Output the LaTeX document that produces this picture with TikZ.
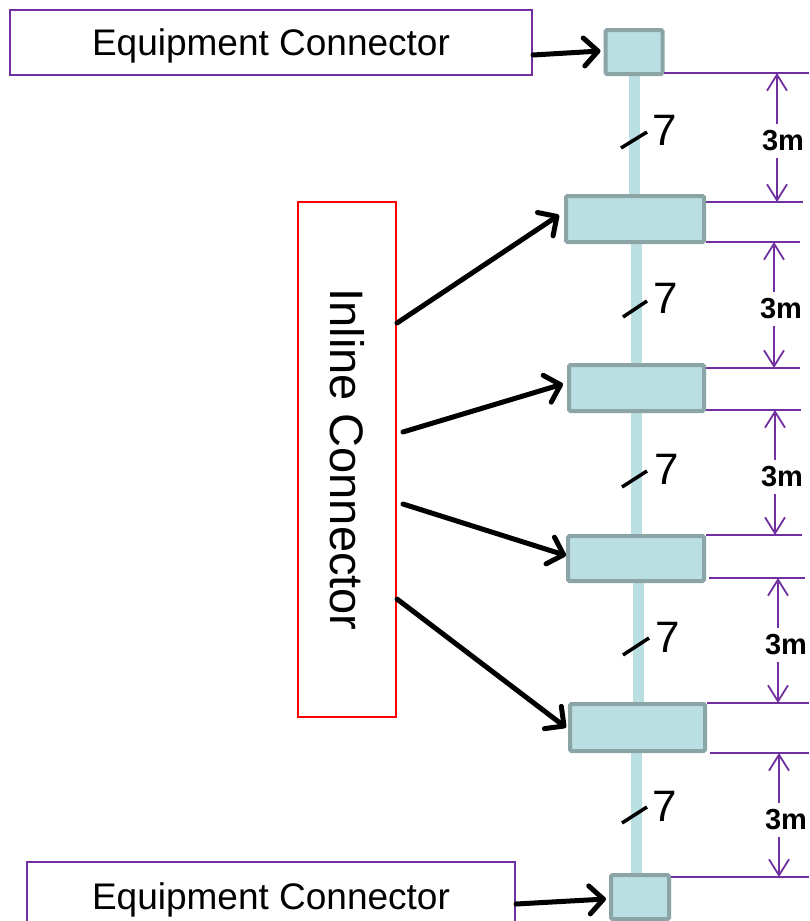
\documentclass[tikz,border=0pt]{standalone}
\usepackage{fontspec}
\setmainfont{Liberation Sans}
\usetikzlibrary{arrows.meta,backgrounds}
\definecolor{conn}{HTML}{B9DFE2}
\definecolor{connb}{HTML}{8BA4A6}
\definecolor{dimc}{HTML}{7030A0}
\begin{document}
\begin{tikzpicture}[x=1pt,y=-1pt,
  conbox/.style={draw=connb, line width=4pt, fill=conn, rounded corners=1.5pt, inner sep=0pt},
  eqbox/.style={draw=dimc, line width=1.5pt, inner sep=0pt, text depth=0pt, font=\fontsize{37}{44}\selectfont},
  inlbox/.style={draw=red, line width=1.5pt, inner sep=0pt, rotate=-90, font=\fontsize{47}{54}\selectfont},
  cable/.style={draw=conn, line width=11pt},
  bigarrow/.style={draw=black, line width=5pt, line cap=round, line join=round,
    -{Straight Barb[length=14pt,width=28pt,round]}},
  dimline/.style={draw=dimc, line width=1.5pt},
  dimarrow/.style={draw=dimc, line width=1.8pt,
    {Straight Barb[length=16pt,width=20pt]}-{Straight Barb[length=16pt,width=20pt]}},
  dimlabel/.style={fill=white, inner xsep=1pt, inner ysep=7pt, font=\fontsize{29}{34}\selectfont\bfseries, text=black},
  slash/.style={draw=black, line width=3.5pt},
  cnt/.style={inner sep=0pt, font=\fontsize{44}{50}\selectfont}]
\useasboundingbox (0,0) rectangle (809,921);

% connectors
\node[conbox, minimum width=57pt, minimum height=44pt] (t0) at (634,52) {};
\node[conbox, minimum width=138pt, minimum height=46pt] (c1) at (635,219) {};
\node[conbox, minimum width=135pt, minimum height=46pt] (c2) at (636.5,388) {};
\node[conbox, minimum width=136pt, minimum height=45pt] (c3) at (636,558.5) {};
\node[conbox, minimum width=135pt, minimum height=47pt] (c4) at (637.5,727.5) {};
\node[conbox, minimum width=58pt, minimum height=44pt] (b0) at (640,897) {};

\begin{pgfonlayer}{background}
\fill[white] (0,0) rectangle (809,921);
\draw[cable] (t0.south) -- (t0.south |- c1.north);
\draw[cable] ([xshift=1pt]c1.south) -- ([xshift=1pt]c1.south |- c2.north);
\draw[cable] (c2.south) -- (c2.south |- c3.north);
\draw[cable] ([xshift=2pt]c3.south) -- ([xshift=2pt]c3.south |- c4.north);
\draw[cable] ([xshift=-1pt]c4.south) -- ([xshift=-1pt]c4.south |- b0.north);
\end{pgfonlayer}

% equipment boxes
\node[eqbox, minimum width=522pt, minimum height=65pt] (eq1) at (271,42.5) {Equipment Connector};
\node[eqbox, minimum width=488pt, minimum height=68pt] (eq2) at (271,896) {Equipment Connector};

% inline connector box
\node[inlbox, minimum width=515pt, minimum height=98pt] (inl) at (347,459.5) {Inline Connector};

% arrows
\coordinate (s0) at (533,55);
\coordinate (s6) at (516,904);
\coordinate (a1) at (397,323);
\coordinate (a2) at (403,432);
\coordinate (a3) at (403,504);
\coordinate (a4) at (397,599);
\draw[bigarrow] (s0) -- ([shift={(-3,-1)}]t0.west);
\draw[bigarrow] (s6) -- ([shift={(-3,2)}]b0.west);
\draw[bigarrow] (a1) -- ([shift={(-5,-4)}]c1.west);
\draw[bigarrow] (a2) -- ([shift={(-4,-4)}]c2.west);
\draw[bigarrow] (a3) -- ([shift={(0,-3)}]c3.west);
\draw[bigarrow] (a4) -- ([shift={(-2,0)}]c4.west);

% dimension extension lines
\draw[dimline] (664,73) coordinate (l0) -- (809,73);
\draw[dimline] (706,202) coordinate (l1a) -- (803,202);
\draw[dimline] (706,242) coordinate (l1b) -- (800,242);
\draw[dimline] (706,368) coordinate (l2a) -- (800,368);
\draw[dimline] (706,410) coordinate (l2b) -- (801,410);
\draw[dimline] (706,535) coordinate (l3a) -- (802,535);
\draw[dimline] (709,578) coordinate (l3b) -- (805,578);
\draw[dimline] (707,703) coordinate (l4a) -- (809,703);
\draw[dimline] (710,753) coordinate (l4b) -- (809,753);
\draw[dimline] (671,877) coordinate (l5) -- (809,877);

% dimension arrows
\draw[dimarrow] (777,73) -- (777,202);
\node[dimlabel] (m1) at (783,141) {3m};
\draw[dimarrow] (774,242) -- (774,368);
\node[dimlabel] (m2) at (781,309) {3m};
\draw[dimarrow] (775,410) -- (775,535);
\node[dimlabel] (m3) at (782,477) {3m};
\draw[dimarrow] (778,578) -- (778,703);
\node[dimlabel] (m4) at (786,645) {3m};
\draw[dimarrow] (779,753) -- (779,877);
\node[dimlabel] (m5) at (786,820) {3m};

% slashes and counts
\draw[slash] (621,148) -- (647,132);
\node[cnt] (n1) at (665,130) {7};
\draw[slash] (623,317) -- (647,301);
\node[cnt] (n2) at (666,298) {7};
\draw[slash] (622,487) -- (647,471);
\node[cnt] (n3) at (667,469) {7};
\draw[slash] (623,655) -- (649,638);
\node[cnt] (n4) at (668,637) {7};
\draw[slash] (622,823) -- (647,807);
\node[cnt] (n5) at (665,806) {7};
\end{tikzpicture}
\end{document}
